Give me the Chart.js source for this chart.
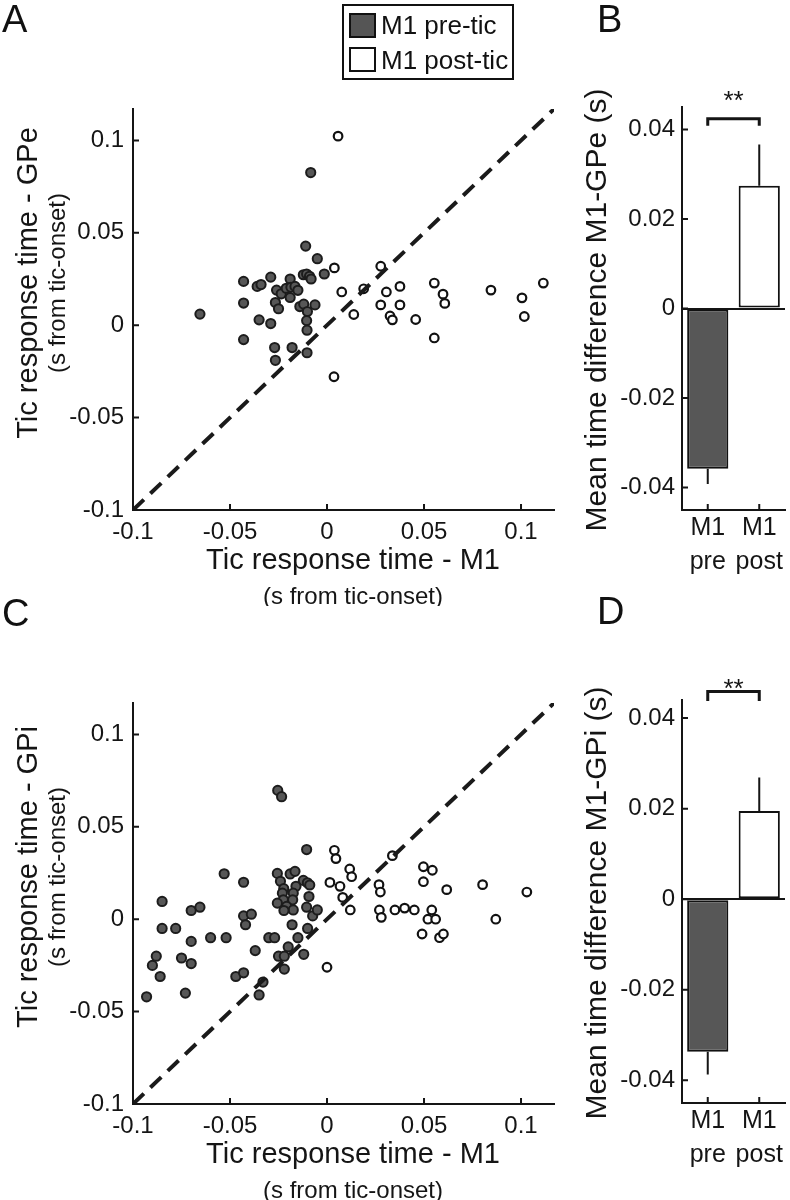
<!DOCTYPE html>
<html>
<head>
<meta charset="utf-8">
<script src="https://cdn.jsdelivr.net/npm/chart.js@4.4.1/dist/chart.umd.min.js"></script>
<style>
  body { margin: 0; background: #fff; }
  #page { position: relative; width: 790px; height: 1200px; overflow: hidden; font-family: "Liberation Sans", Arial, sans-serif; color: #111; }
  canvas { position: absolute; }
  .letter { position: absolute; font-size: 38px; line-height: 1; }
  #legend { position: absolute; left: 342px; top: 4px; width: 172px; height: 76px; border: 2px solid #111; box-sizing: border-box; }
  .swatch { position: absolute; left: 349px; width: 27px; height: 25px; border: 2px solid #111; box-sizing: border-box; }
  .legtext { position: absolute; left: 381px; font-size: 26px; line-height: 1; }
</style>
</head>
<body>
<div id="page">
  <canvas id="chartA" width="570" height="606" style="left:0;top:0"></canvas>
  <canvas id="chartB" width="215" height="606" style="left:575px;top:0"></canvas>
  <canvas id="chartC" width="570" height="606" style="left:0;top:594px"></canvas>
  <canvas id="chartD" width="215" height="608" style="left:575px;top:592px"></canvas>

  <div class="letter" style="left:2px;top:0">A</div>
  <div class="letter" style="left:597px;top:0">B</div>
  <div class="letter" style="left:2px;top:594px">C</div>
  <div class="letter" style="left:597px;top:592px">D</div>

  <div id="legend"></div>
  <div class="swatch" style="top:13px;background:#555"></div>
  <div class="swatch" style="top:47px;background:#fff"></div>
  <div class="legtext" id="leg1" style="top:12px"></div>
  <div class="legtext" id="leg2" style="top:47px"></div>
</div>
<script>
// scatter data, panel A (M1 vs GPe)
const preA_x = [-0.0084, -0.011, -0.005, -0.043, -0.036, -0.034, -0.029, -0.026, -0.0236, -0.021,
  -0.019, -0.0186, -0.0165, -0.015, -0.019, -0.0122, -0.0105, -0.009, -0.0082, -0.0014,
  -0.043, -0.0266, -0.025, -0.014, -0.012, -0.0062, -0.0101, -0.0105, -0.0103, -0.0655,
  -0.035, -0.029, -0.043, -0.027, -0.018, -0.0103, -0.0266];
const preA_y = [0.0826, 0.0428, 0.036, 0.0237, 0.021, 0.022, 0.026, 0.019, 0.017, 0.020,
  0.025, 0.0205, 0.021, 0.0189, 0.015, 0.0273, 0.0277, 0.0265, 0.025, 0.0277,
  0.012, 0.0123, 0.0089, 0.0101, 0.0114, 0.011, 0.0074, 0.0025, -0.0027, 0.006,
  0.0029, 0.0009, -0.0078, -0.0121, -0.0121, -0.0149, -0.019];
const postA_x = [0.0057, 0.0038, 0.0277, 0.0189, 0.0076, 0.0376, 0.0306, 0.0138, 0.0277, 0.0376,
  0.0325, 0.0337, 0.0457, 0.0553, 0.0598, 0.0607, 0.0553, 0.0845, 0.1005, 0.1017, 0.1115, 0.0036];
const postA_y = [0.1023, 0.031, 0.0319, 0.0197, 0.018, 0.021, 0.018, 0.0058, 0.011, 0.011,
  0.005, 0.0029, 0.0031, 0.0228, 0.0168, 0.0118, -0.0069, 0.019, 0.0148, 0.0047, 0.0228, -0.0279];

// scatter data, panel C (M1 vs GPi)
const preC_x = [-0.0254, -0.0234, -0.0105, -0.053, -0.043, -0.0256, -0.019, -0.0165, -0.024, -0.0122,
  -0.0101, -0.0089, -0.016, -0.0223, -0.023, -0.0174, -0.0093, -0.0177, -0.0225, -0.0256,
  -0.0208, -0.0105, -0.0174, -0.0222, -0.085, -0.070, -0.0655, -0.043, -0.039, -0.0074,
  -0.093, -0.090, -0.088, -0.086, -0.085, -0.078, -0.075, -0.073, -0.070, -0.070,
  -0.060, -0.052, -0.047, -0.043, -0.042, -0.037, -0.035, -0.033, -0.030, -0.027,
  -0.025, -0.022, -0.020, -0.018, -0.015, -0.012, -0.010, -0.022, -0.005];
const preC_y = [0.0697, 0.0663, 0.0377, 0.0246, 0.020, 0.0248, 0.0245, 0.0259, 0.0205, 0.021,
  0.0197, 0.0185, 0.0178, 0.0165, 0.0141, 0.0141, 0.0123, 0.0105, 0.0105, 0.0087,
  0.0069, 0.0065, 0.005, 0.0047, 0.0096, 0.0047, 0.0065, 0.0018, 0.0027, 0.0018,
  -0.042, -0.025, -0.020, -0.031, -0.005, -0.005, -0.021, -0.040, -0.024, -0.012,
  -0.010, -0.010, -0.031, -0.029, -0.003, -0.017, -0.041, -0.034, -0.010, -0.010,
  -0.020, -0.027, -0.015, -0.003, -0.010, -0.019, -0.005, -0.020, 0.005];
const postC_x = [0.0038, 0.0046, 0.0117, 0.0127, 0.0337, 0.0497, 0.0543, 0.0497, 0.0015, 0.0067,
  0.0268, 0.0275, 0.0617, 0.0802, 0.103, 0.0081, 0.012, 0.027, 0.028, 0.035,
  0.040, 0.045, 0.049, 0.052, 0.054, 0.056, 0.058, 0.060, 0.087, 0.0];
const postC_y = [0.0373, 0.0328, 0.0272, 0.023, 0.0344, 0.0284, 0.0265, 0.0203, 0.0199, 0.0178,
  0.0187, 0.0147, 0.016, 0.0187, 0.0147, 0.0118, 0.005, 0.005, 0.001, 0.005,
  0.006, 0.005, -0.008, 0.0, 0.005, 0.0, -0.010, -0.008, 0.0, -0.026];

// unity line and scatter ticks
const diagX = [-0.1, 0.117];
const diagY = [-0.1, 0.117];
const scatterTicks = [-0.1, -0.05, 0, 0.05, 0.1];
const scatterTickLabels = ["-0.1", "-0.05", "0", "0.05", "0.1"];

// bar panels
const barCategories = [["M1", "pre"], ["M1", "post"]];
const barB = [-0.0358, 0.0274];
const errB = [0.0034, 0.0092];
const barD = [-0.0337, 0.0195];
const errD = [0.005, 0.0074];
const barTicks = [-0.04, -0.02, 0, 0.02, 0.04];
const barTickLabels = ["-0.04", "-0.02", "0", "0.02", "0.04"];
const legendLabels = ["M1 pre-tic", "M1 post-tic"];

const FAMILY = '"Liberation Sans", Arial, sans-serif';
const INK = "#151515";
const PRE_FILL = "#575757";

document.getElementById("leg1").textContent = legendLabels[0];
document.getElementById("leg2").textContent = legendLabels[1];

const toPoints = (xs, ys) => xs.map((x, i) => ({ x: x, y: ys[i] }));

// short inward tick marks on both axes
const innerTicks = {
  id: "innerTicks",
  afterDraw(chart) {
    const ctx = chart.ctx;
    const xs = chart.scales.x, ys = chart.scales.y;
    ctx.save();
    ctx.strokeStyle = INK;
    ctx.lineWidth = 2;
    ctx.beginPath();
    xs.ticks.forEach((t, i) => {
      const px = xs.getPixelForTick(i);
      ctx.moveTo(px, xs.top);
      ctx.lineTo(px, xs.top - 6);
    });
    ys.ticks.forEach((t, i) => {
      const py = ys.getPixelForTick(i);
      ctx.moveTo(ys.right, py);
      ctx.lineTo(ys.right + 6, py);
    });
    ctx.stroke();
    ctx.restore();
  },
};

// axis titles drawn as text
function textPlugin(items) {
  return {
    id: "axisText",
    afterDraw(chart) {
      const ctx = chart.ctx;
      ctx.save();
      ctx.fillStyle = INK;
      ctx.textAlign = "center";
      ctx.textBaseline = "middle";
      items.forEach((it) => {
        ctx.font = it.size + "px " + FAMILY;
        ctx.save();
        ctx.translate(it.x, it.y);
        if (it.rot) ctx.rotate(it.rot);
        ctx.fillText(it.text, 0, 0);
        ctx.restore();
      });
      ctx.restore();
    },
  };
}

function scatterChart(id, pre, post, yTitle) {
  return new Chart(document.getElementById(id), {
    type: "scatter",
    data: {
      datasets: [
        {
          data: toPoints(diagX, diagY),
          showLine: true,
          borderColor: "#1a1a1a",
          borderWidth: 4,
          borderDash: [15, 9],
          pointRadius: 0,
          order: 0,
        },
        {
          data: post,
          pointRadius: 4.3,
          borderWidth: 2.2,
          backgroundColor: "#fff",
          borderColor: "#111",
          order: 1,
        },
        {
          data: pre,
          pointRadius: 4.6,
          borderWidth: 2,
          backgroundColor: PRE_FILL,
          borderColor: "#1c1c1c",
          order: 2,
        },
      ],
    },
    options: {
      responsive: false,
      animation: false,
      events: [],
      layout: { padding: { left: 0, top: 109, right: 16, bottom: 0 } },
      plugins: { legend: { display: false }, tooltip: { enabled: false } },
      scales: {
        x: {
          type: "linear",
          min: -0.1,
          max: 0.117,
          afterFit: (s) => { s.height = 96; },
          afterBuildTicks: (s) => { s.ticks = scatterTicks.map((v) => ({ value: v })); },
          grid: { display: false, drawTicks: false },
          border: { color: INK, width: 2 },
          ticks: {
            padding: 8,
            color: INK,
            maxRotation: 0,
            autoSkip: false,
            font: { size: 24, family: FAMILY },
            callback: (v, i) => scatterTickLabels[i],
          },
        },
        y: {
          type: "linear",
          min: -0.1,
          max: 0.117,
          afterFit: (s) => { s.width = 133; },
          afterBuildTicks: (s) => { s.ticks = scatterTicks.map((v) => ({ value: v })); },
          grid: { display: false, drawTicks: false },
          border: { color: INK, width: 2 },
          ticks: {
            padding: 9,
            color: INK,
            autoSkip: false,
            font: { size: 24, family: FAMILY },
            callback: (v, i) => scatterTickLabels[i],
          },
        },
      },
    },
    plugins: [
      innerTicks,
      textPlugin([
        { text: "Tic response time - M1", x: 353, y: 561, size: 29 },
        { text: "(s from tic-onset)", x: 353, y: 597, size: 24 },
        { text: yTitle, x: 29, y: 283, size: 29, rot: -Math.PI / 2 },
        { text: "(s from tic-onset)", x: 58, y: 283, size: 24, rot: -Math.PI / 2 },
      ]),
    ],
  });
}

// one-sided error bars plus the significance bracket
function barExtras(values, errors, bracket) {
  return {
    id: "barExtras",
    afterDatasetsDraw(chart) {
      const ctx = chart.ctx;
      const ys = chart.scales.y, xs = chart.scales.x;
      const meta = chart.getDatasetMeta(0);
      ctx.save();
      ctx.strokeStyle = INK;
      ctx.lineWidth = 2;
      ctx.beginPath();
      meta.data.forEach((el, i) => {
        const v = values[i];
        const end = v < 0 ? v - errors[i] : v + errors[i];
        ctx.moveTo(el.x, ys.getPixelForValue(v));
        ctx.lineTo(el.x, ys.getPixelForValue(end));
      });
      ctx.stroke();

      const x0 = xs.getPixelForValue(0), x1 = xs.getPixelForValue(1);
      const yTop = ys.getPixelForValue(bracket.top);
      const yFoot = ys.getPixelForValue(bracket.foot);
      ctx.lineWidth = 3;
      ctx.beginPath();
      ctx.moveTo(x0, yFoot);
      ctx.lineTo(x0, yTop);
      ctx.lineTo(x1, yTop);
      ctx.lineTo(x1, yFoot);
      ctx.stroke();

      ctx.fillStyle = INK;
      ctx.font = "26px " + FAMILY;
      ctx.textAlign = "center";
      ctx.textBaseline = "middle";
      ctx.fillText("**", (x0 + x1) / 2, ys.getPixelForValue(bracket.star) + 6);
      ctx.restore();
    },
  };
}

function barChart(id, values, errors, bracket, yTitle, top, maxY) {
  return new Chart(document.getElementById(id), {
    type: "bar",
    data: {
      labels: barCategories,
      datasets: [
        {
          data: values,
          backgroundColor: [PRE_FILL, "#fff"],
          borderColor: "#111",
          borderWidth: 2,
          borderSkipped: false,
          barPercentage: 0.8,
          categoryPercentage: 1,
        },
      ],
    },
    options: {
      responsive: false,
      animation: false,
      events: [],
      layout: { padding: { left: 0, top: top, right: 5, bottom: 0 } },
      plugins: { legend: { display: false }, tooltip: { enabled: false } },
      scales: {
        x: {
          offset: true,
          afterFit: (s) => { s.height = chartHeight(id) - top - 403; },
          grid: { display: false, drawTicks: false },
          border: { color: INK, width: 2 },
          ticks: {
            padding: 1,
            color: INK,
            maxRotation: 0,
            font: { size: 25, family: FAMILY, lineHeight: 1.35 },
          },
        },
        y: {
          min: -0.045,
          max: maxY,
          afterFit: (s) => { s.width = 107; },
          afterBuildTicks: (s) => { s.ticks = barTicks.map((v) => ({ value: v })); },
          grid: {
            drawTicks: false,
            lineWidth: 2,
            color: (c) => (c.tick && c.tick.value === 0 ? INK : "rgba(0,0,0,0)"),
          },
          border: { color: INK, width: 2 },
          ticks: {
            padding: 7,
            color: INK,
            autoSkip: false,
            font: { size: 24, family: FAMILY },
            callback: (v, i) => barTickLabels[i],
          },
        },
      },
    },
    plugins: [
      innerTicks,
      barExtras(values, errors, bracket),
      textPlugin([{ text: yTitle, x: 23, y: top + 203, size: 30, rot: -Math.PI / 2 }]),
    ],
  });
}

function chartHeight(id) {
  return document.getElementById(id).height;
}

scatterChart("chartA", toPoints(preA_x, preA_y), toPoints(postA_x, postA_y), "Tic response time - GPe");
scatterChart("chartC", toPoints(preC_x, preC_y), toPoints(postC_x, postC_y), "Tic response time - GPi");
barChart("chartB", barB, errB, { top: 0.0424, foot: 0.0408, star: 0.0474 },
  "Mean time difference M1-GPe (s)", 107, 0.045);
barChart("chartD", barD, errD, { top: 0.0459, foot: 0.0438, star: 0.0476 },
  "Mean time difference M1-GPi (s)", 108, 0.044);
</script>
</body>
</html>
